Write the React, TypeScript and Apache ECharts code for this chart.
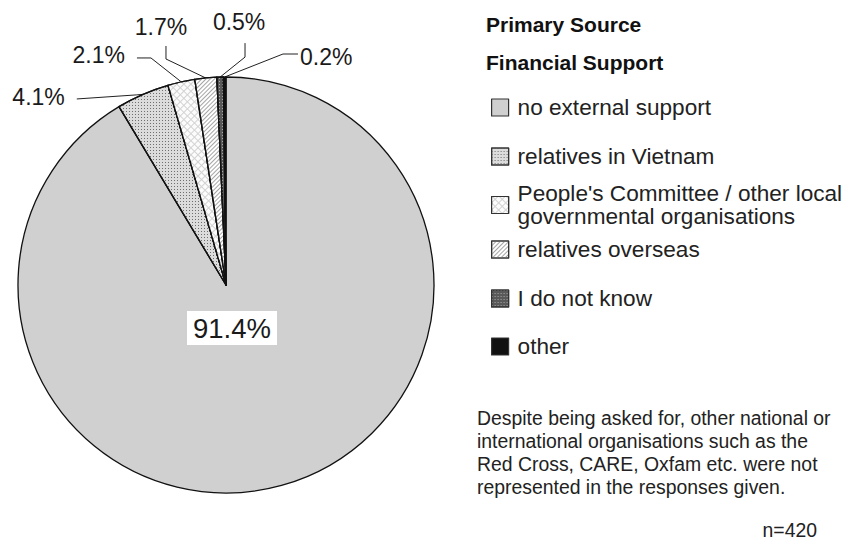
import React, { useEffect, useRef } from "react";
import * as echarts from "echarts";

// ---- data ----
const categories = [
  "no external support",
  "relatives in Vietnam",
  "People's Committee / other local governmental organisations",
  "relatives overseas",
  "I do not know",
  "other",
];
const shares = [91.4, 4.1, 2.1, 1.7, 0.5, 0.2];
const titleLines = ["Primary Source", "Financial Support"];
const noteLines = [
  "Despite being asked for, other national or",
  "international organisations such as the",
  "Red Cross, CARE, Oxfam etc. were not",
  "represented in the responses given.",
];
const sampleNote = "n=420";

// ---- styles ----
const FONT = "'Liberation Sans', Arial, Helvetica, sans-serif";
const CX = 226;
const CY = 285;
const R = 208;

const fills = ["#d0d0d0", "#dcdcdc", "#d2d2d2", "#ffffff", "#595959", "#111111"];
const decals: any[] = [
  null,
  { symbol: "rect", symbolSize: 1, color: "#6e6e6e", dashArrayX: [1, 2], dashArrayY: [1, 2] },
  { symbol: "rect", symbolSize: 1, color: "#fcfcfc", dashArrayX: [4, 1], dashArrayY: [4, 1], rotation: Math.PI / 4 },
  { symbol: "rect", symbolSize: 1, color: "#a5a5a5", dashArrayX: [1, 0], dashArrayY: [1, 2], rotation: -Math.PI / 4 },
  { symbol: "rect", symbolSize: 1, color: "#a8a8a8", dashArrayX: [1, 2], dashArrayY: [1, 2] },
  null,
];

// label geometry relative to the slice's outer edge point
const labelGeom: any[] = [
  null,
  { bend: [-6, 0.5], end: [-66, 4.6], text: [-78, 2.6], align: "right" },
  { bend: [-30.3, -23.9], end: [-44.3, -23.9], text: [-56.3, -26.9], align: "right" },
  { bend: [-39.8, -19], end: [-39.8, -32], text: [-44.8, -51], align: "center" },
  { bend: [24.9, -20], end: [24.9, -34], text: [19, -55.5], align: "center" },
  { bend: [58.3, -23], end: [73.3, -23], text: [75.3, -20.5], align: "left" },
];

const legendTops = [96, 145, 170.5, 238, 287, 335];

export default function App() {
  const ref = useRef<HTMLDivElement>(null);

  useEffect(() => {
    if (!ref.current) return;
    const chart = echarts.init(ref.current, undefined, { renderer: "svg" });

    const data = categories.map((name, i) => {
      const item: any = {
        name,
        value: shares[i],
        itemStyle: { color: fills[i] },
      };
      if (decals[i]) item.itemStyle.decal = decals[i];
      if (i === 0) {
        item.label = {
          position: "inside",
          fontSize: 27.5,
          backgroundColor: "#ffffff",
          padding: [3, 6],
          color: "#1a1a1a",
        };
        item.labelLine = { show: false };
      }
      return item;
    });

    const option: any = {
      animation: false,
      textStyle: { fontFamily: FONT },
      title: titleLines.map((t, i) => ({
        text: t,
        left: 486,
        top: i === 0 ? 12 : 50,
        padding: 0,
        textStyle: { fontFamily: FONT, fontSize: 21, fontWeight: "bold", color: "#111", lineHeight: 24 },
      })),
      legend: categories.map((name, i) => ({
        data: [name],
        orient: "vertical",
        left: 491,
        top: legendTops[i],
        padding: 0,
        icon: "rect",
        itemWidth: 17,
        itemHeight: 17,
        selectedMode: false,
        formatter: (n: string) => n.replace("local ", "local\n"),
        itemStyle: { borderColor: "#333", borderWidth: 1.2 },
        textStyle: {
          fontFamily: FONT,
          fontSize: 22.6,
          color: "#222",
          lineHeight: i === 2 ? 23 : 22,
          padding: i === 2 ? [23, 0, 0, 4] : [0, 0, 0, 4],
        },
      })),
      graphic: [
        {
          type: "text",
          left: 477,
          top: 406,
          style: {
            text: noteLines.join("\n"),
            font: `19.4px ${FONT}`,
            lineHeight: 23,
            fill: "#222",
          },
        },
        {
          type: "text",
          right: 40,
          top: 519,
          style: {
            text: sampleNote,
            font: `19.4px ${FONT}`,
            lineHeight: 22,
            fill: "#222",
          },
        },
      ],
      series: [
        {
          type: "pie",
          center: [CX, CY],
          radius: R,
          startAngle: 90,
          clockwise: true,
          avoidLabelOverlap: false,
          silent: true,
          emphasis: { disabled: true },
          itemStyle: { borderColor: "#111", borderWidth: 1.3 },
          label: {
            show: true,
            position: "outside",
            fontFamily: FONT,
            fontSize: 23,
            color: "#1a1a1a",
            formatter: (p: any) => `${Number(p.value).toFixed(1)}%`,
          },
          labelLine: {
            show: true,
            length: 10,
            length2: 10,
            lineStyle: { color: "#222", width: 1 },
          },
          labelLayout: (params: any) => {
            const i = params.dataIndex;
            if (i === 0) {
              return { x: CX + 6, y: CY + 43, align: "center", verticalAlign: "middle" };
            }
            const g = labelGeom[i];
            const pts = params.labelLinePoints;
            if (!g || !pts) return {};
            const x0 = pts[0][0];
            const y0 = pts[0][1];
            return {
              x: x0 + g.text[0],
              y: y0 + g.text[1],
              align: g.align,
              verticalAlign: "middle",
              labelLinePoints: [
                [x0, y0],
                [x0 + g.bend[0], y0 + g.bend[1]],
                [x0 + g.end[0], y0 + g.end[1]],
              ],
            };
          },
          data,
        },
      ],
    };

    chart.setOption(option);
    return () => chart.dispose();
  }, []);

  return (
    <div
      ref={ref}
      style={{ position: "fixed", left: 0, top: 0, width: 857, height: 542, background: "#fff" }}
    />
  );
}
